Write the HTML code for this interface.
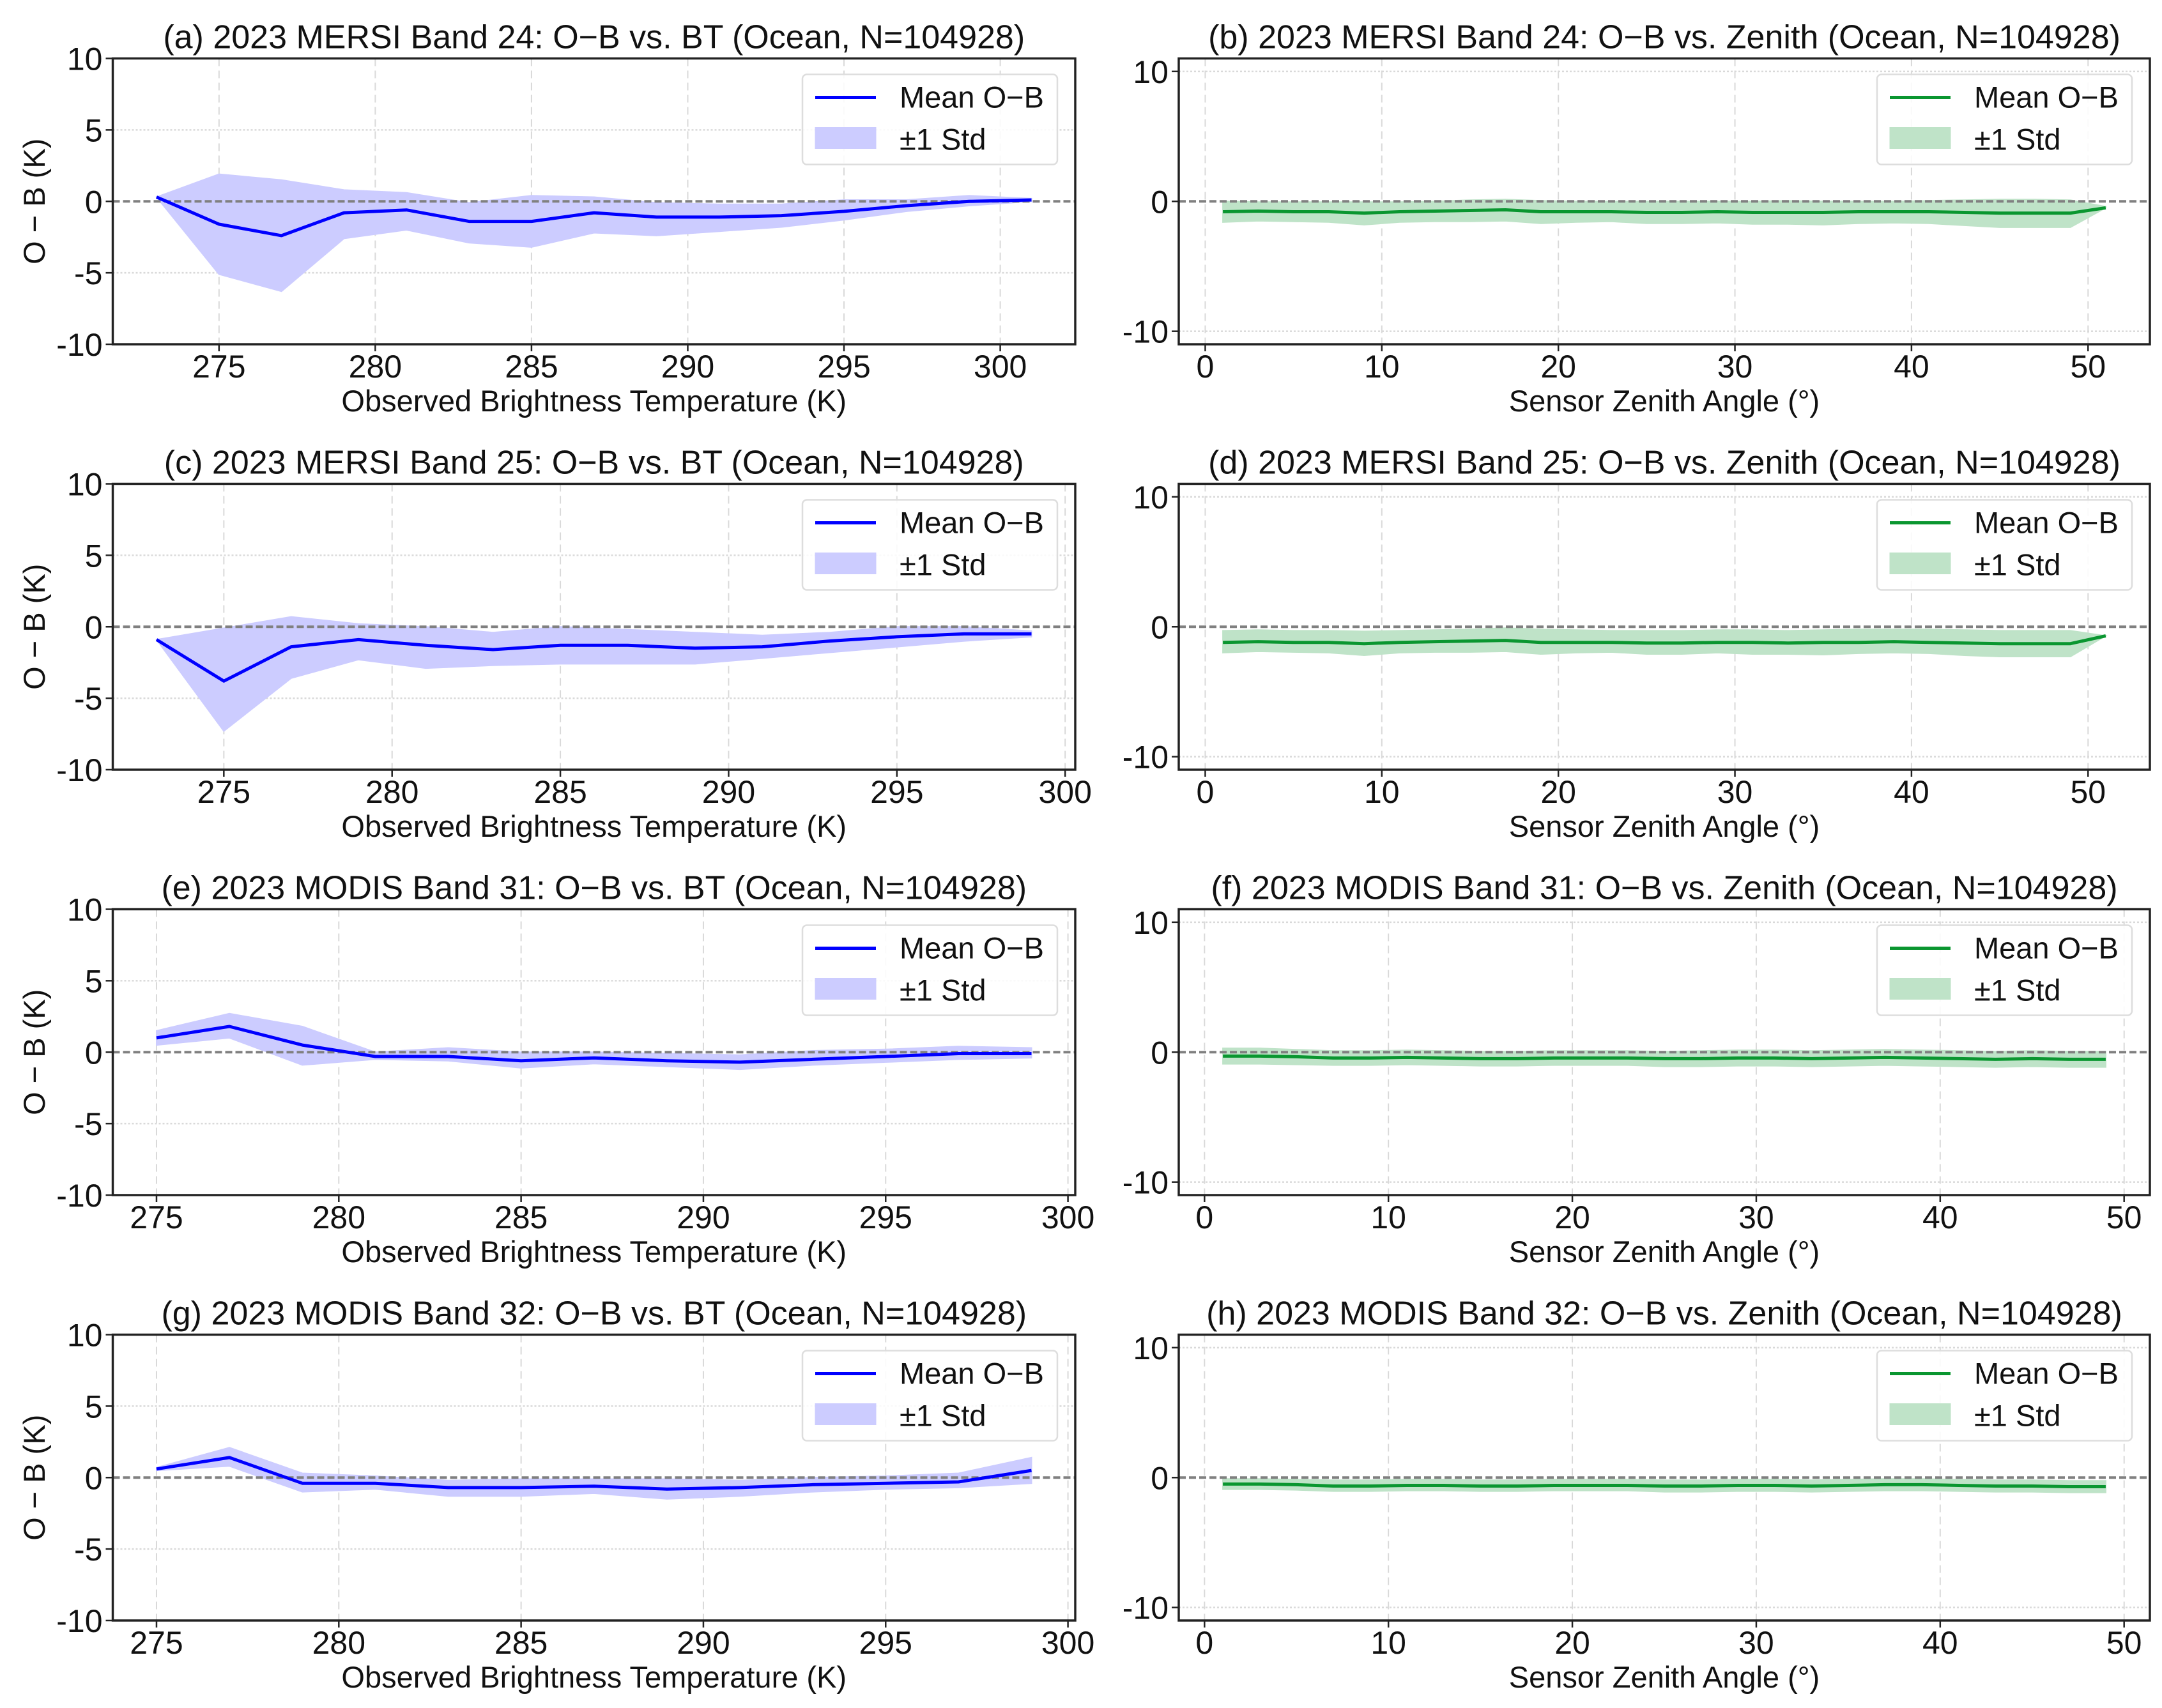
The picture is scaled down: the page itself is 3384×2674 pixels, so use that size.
<!DOCTYPE html>
<html><head><meta charset="utf-8">
<style>
html,body{margin:0;padding:0;background:#fff;}
svg{display:block;font-family:"Liberation Sans",Arial,sans-serif;}
</style></head>
<body>
<svg id="fig" width="3384" height="2674" viewBox="0 0 3384 2674" xmlns="http://www.w3.org/2000/svg"></svg>
<script>
// ---------- data ----------
const btA = [273,275,277,279,281,283,285,287,289,291,293,295,297,299,301];
const meanA = [0.3,-1.6,-2.4,-0.8,-0.6,-1.4,-1.4,-0.8,-1.1,-1.1,-1.0,-0.7,-0.3,0.0,0.1];
const upA = [0.3,1.9,1.5,0.8,0.6,-0.1,0.4,0.3,-0.1,-0.2,-0.2,0.1,0.1,0.4,0.2];
const loA = [0.3,-5.1,-6.3,-2.6,-2.0,-2.9,-3.2,-2.2,-2.4,-2.1,-1.8,-1.3,-0.7,-0.3,0.0];

const btC = [273,275,277,279,281,283,285,287,289,291,293,295,297,299];
const meanC = [-0.9,-3.8,-1.4,-0.9,-1.3,-1.6,-1.3,-1.3,-1.5,-1.4,-1.0,-0.7,-0.5,-0.5];
const upC = [-0.9,-0.1,0.7,0.2,0.0,-0.4,0.0,-0.2,-0.4,-0.6,-0.4,0.0,0.0,-0.3];
const loC = [-0.9,-7.3,-3.6,-2.3,-2.9,-2.7,-2.6,-2.6,-2.6,-2.2,-1.8,-1.4,-1.0,-0.7];

const btE = [275,277,279,281,283,285,287,289,291,293,295,297,299];
const meanE = [1.0,1.8,0.5,-0.3,-0.3,-0.6,-0.4,-0.6,-0.7,-0.5,-0.3,-0.1,-0.1];
const upE = [1.5,2.7,1.8,0.0,0.3,0.0,0.0,-0.1,-0.2,0.1,0.2,0.4,0.3];
const loE = [0.5,1.0,-0.9,-0.5,-0.6,-1.1,-0.8,-1.0,-1.2,-0.9,-0.7,-0.5,-0.4];

const btG = [275,277,279,281,283,285,287,289,291,293,295,297,299];
const meanG = [0.6,1.4,-0.4,-0.4,-0.7,-0.7,-0.6,-0.8,-0.7,-0.5,-0.4,-0.3,0.5];
const upG = [0.7,2.1,0.3,0.1,-0.2,-0.1,-0.1,-0.1,-0.2,0.0,0.1,0.3,1.4];
const loG = [0.5,0.8,-1.0,-0.8,-1.3,-1.3,-1.1,-1.5,-1.3,-1.0,-0.8,-0.7,-0.4];

const zenB = [1,3,5,7,9,11,13,15,17,19,21,23,25,27,29,31,33,35,37,39,41,43,45,47,49,51];
const meanB = [-0.8,-0.75,-0.8,-0.8,-0.9,-0.8,-0.75,-0.7,-0.65,-0.8,-0.8,-0.8,-0.85,-0.85,-0.8,-0.85,-0.85,-0.85,-0.8,-0.8,-0.8,-0.85,-0.9,-0.9,-0.9,-0.5];
const upB = [0,-0.05,-0.05,-0.05,-0.05,-0.05,0,0.1,0.15,0.05,0,0,0,0,0,0,0.05,0,0,0,0.05,0.1,0.15,0.15,0.1,-0.4];
const loB = [-1.6,-1.5,-1.55,-1.6,-1.8,-1.6,-1.55,-1.55,-1.5,-1.7,-1.6,-1.55,-1.7,-1.7,-1.65,-1.75,-1.75,-1.8,-1.7,-1.65,-1.7,-1.85,-2.0,-2.0,-2.0,-0.5];

const zenD = [1,3,5,7,9,11,13,15,17,19,21,23,25,27,29,31,33,35,37,39,41,43,45,47,49,51];
const meanD = [-1.2,-1.15,-1.2,-1.2,-1.3,-1.2,-1.15,-1.1,-1.05,-1.2,-1.2,-1.2,-1.25,-1.25,-1.2,-1.2,-1.25,-1.2,-1.2,-1.15,-1.2,-1.25,-1.3,-1.3,-1.3,-0.7];
const upD = [-0.3,-0.25,-0.3,-0.3,-0.35,-0.3,-0.25,-0.2,-0.1,-0.2,-0.25,-0.3,-0.3,-0.3,-0.25,-0.25,-0.3,-0.25,-0.2,-0.2,-0.2,-0.25,-0.3,-0.3,-0.3,-0.7];
const loD = [-2.0,-1.9,-1.95,-2.0,-2.2,-2.0,-1.95,-1.95,-1.9,-2.1,-2.0,-1.95,-2.1,-2.1,-2.0,-2.1,-2.1,-2.15,-2.05,-2.0,-2.05,-2.2,-2.3,-2.3,-2.3,-0.7];

const zenF = [1,3,5,7,9,11,13,15,17,19,21,23,25,27,29,31,33,35,37,39,41,43,45,47,49];
const meanF = [-0.3,-0.3,-0.35,-0.45,-0.45,-0.4,-0.45,-0.5,-0.5,-0.45,-0.45,-0.45,-0.5,-0.5,-0.45,-0.45,-0.5,-0.45,-0.4,-0.45,-0.5,-0.55,-0.5,-0.55,-0.55];
const upF = [0.3,0.3,0.2,0.1,0.1,0.15,0.1,0.05,0.05,0.1,0.1,0.1,0.05,0.1,0.15,0.15,0.1,0.15,0.2,0.15,0.1,0.05,0.1,0.05,0.05];
const loF = [-0.9,-0.9,-0.95,-1.0,-1.0,-0.95,-1.0,-1.05,-1.05,-1.0,-1.0,-1.0,-1.1,-1.1,-1.05,-1.05,-1.1,-1.05,-1.0,-1.05,-1.1,-1.15,-1.1,-1.15,-1.15];

const zenH = [1,3,5,7,9,11,13,15,17,19,21,23,25,27,29,31,33,35,37,39,41,43,45,47,49];
const meanH = [-0.5,-0.5,-0.55,-0.65,-0.65,-0.6,-0.6,-0.65,-0.65,-0.6,-0.6,-0.6,-0.65,-0.65,-0.6,-0.6,-0.65,-0.6,-0.55,-0.55,-0.6,-0.65,-0.65,-0.7,-0.7];
const upH = [-0.1,-0.1,-0.15,-0.2,-0.2,-0.15,-0.15,-0.2,-0.2,-0.15,-0.15,-0.15,-0.2,-0.2,-0.15,-0.15,-0.2,-0.15,-0.1,-0.1,-0.15,-0.2,-0.2,-0.25,-0.25];
const loH = [-0.9,-0.9,-0.95,-1.05,-1.05,-1.0,-1.0,-1.05,-1.05,-1.0,-1.0,-1.0,-1.1,-1.1,-1.05,-1.05,-1.1,-1.05,-1.0,-1.0,-1.05,-1.1,-1.1,-1.15,-1.15];

const ticksBT1 = [275,280,285,290,295,300];
const ticksZen = [0,10,20,30,40,50];
const ticksYL = [10,5,0,-5,-10];
const ticksYR = [10,0,-10];

const titles = [
 "(a) 2023 MERSI Band 24: O\u2212B vs. BT (Ocean, N=104928)",
 "(b) 2023 MERSI Band 24: O\u2212B vs. Zenith (Ocean, N=104928)",
 "(c) 2023 MERSI Band 25: O\u2212B vs. BT (Ocean, N=104928)",
 "(d) 2023 MERSI Band 25: O\u2212B vs. Zenith (Ocean, N=104928)",
 "(e) 2023 MODIS Band 31: O\u2212B vs. BT (Ocean, N=104928)",
 "(f) 2023 MODIS Band 31: O\u2212B vs. Zenith (Ocean, N=104928)",
 "(g) 2023 MODIS Band 32: O\u2212B vs. BT (Ocean, N=104928)",
 "(h) 2023 MODIS Band 32: O\u2212B vs. Zenith (Ocean, N=104928)"
];

// ---------- drawing ----------
const NS = "http://www.w3.org/2000/svg";
const svg = document.getElementById('fig');
function el(tag, attrs, parent){
  const e = document.createElementNS(NS, tag);
  for (const k in attrs) e.setAttribute(k, attrs[k]);
  (parent||svg).appendChild(e);
  return e;
}
const panels = [
 {xs:btA, m:meanA, u:upA, l:loA, col:0, xt:ticksBT1, yt:ticksYL, ylim:[-10,10], xl:"Observed Brightness Temperature (K)"},
 {xs:zenB, m:meanB, u:upB, l:loB, col:1, xt:ticksZen, yt:ticksYR, ylim:[-11,11], xl:"Sensor Zenith Angle (\u00B0)"},
 {xs:btC, m:meanC, u:upC, l:loC, col:0, xt:ticksBT1, yt:ticksYL, ylim:[-10,10], xl:"Observed Brightness Temperature (K)"},
 {xs:zenD, m:meanD, u:upD, l:loD, col:1, xt:ticksZen, yt:ticksYR, ylim:[-11,11], xl:"Sensor Zenith Angle (\u00B0)"},
 {xs:btE, m:meanE, u:upE, l:loE, col:0, xt:ticksBT1, yt:ticksYL, ylim:[-10,10], xl:"Observed Brightness Temperature (K)"},
 {xs:zenF, m:meanF, u:upF, l:loF, col:1, xt:ticksZen, yt:ticksYR, ylim:[-11,11], xl:"Sensor Zenith Angle (\u00B0)"},
 {xs:btG, m:meanG, u:upG, l:loG, col:0, xt:ticksBT1, yt:ticksYL, ylim:[-10,10], xl:"Observed Brightness Temperature (K)"},
 {xs:zenH, m:meanH, u:upH, l:loH, col:1, xt:ticksZen, yt:ticksYR, ylim:[-11,11], xl:"Sensor Zenith Angle (\u00B0)"}
];
const FS = 47, FT = 52, FK = 50;
panels.forEach((p, i) => {
  const row = Math.floor(i/2);
  const L = p.col===0 ? 176.5 : 1845;
  const R = p.col===0 ? 1683 : 3365;
  const T = 91.5 + row*666;
  const B = T + 447.5;
  const x0 = p.xs[0], x1 = p.xs[p.xs.length-1], pad = (x1-x0)*0.05;
  const xmin = x0-pad, xmax = x1+pad;
  const X = v => L + (v-xmin)/(xmax-xmin)*(R-L);
  const Y = v => B - (v-p.ylim[0])/(p.ylim[1]-p.ylim[0])*(B-T);
  const lineCol = p.col===0 ? "#0000ff" : "#0a9630";
  const fillCol = p.col===0 ? "#ccccff" : "#bfe3c8";
  const g = el('g', {});
  
  
  p.xt.forEach(t => {
    const gl = el('line', {x1:X(t), x2:X(t), y1:T, y2:B, stroke:"#d9d9d9", 'stroke-width':2, 'stroke-dasharray':"12,7"}, g);
    
    
  });
  p.yt.forEach(t => {
    if (t===0) return;
    const gl = el('line', {x1:L, x2:R, y1:Y(t), y2:Y(t), stroke:"#d9d9d9", 'stroke-width':2.5, 'stroke-dasharray':"3,3"}, g);
    
    
  });
  let d = "";
  p.xs.forEach((x,k) => { d += (k?"L":"M") + X(x).toFixed(1) + "," + Y(p.u[k]).toFixed(1); });
  for (let k=p.xs.length-1;k>=0;k--) d += "L" + X(p.xs[k]).toFixed(1) + "," + Y(p.l[k]).toFixed(1);
  const band = el('path', {d:d+"Z", fill:fillCol, stroke:fillCol, 'stroke-width':2}, g);
  
  
  const z = el('line', {x1:L, x2:R, y1:Y(0), y2:Y(0), stroke:"#808080", 'stroke-width':4, 'stroke-dasharray':"11,5"}, g);
  
  
  const pts = p.xs.map((x,k) => X(x).toFixed(1)+","+Y(p.m[k]).toFixed(1)).join(" ");
  const ml = el('polyline', {points:pts, fill:"none", stroke:lineCol, 'stroke-width':5, 'stroke-linejoin':"round"}, g);
  
  
  const fr = el('rect', {x:L, y:T, width:R-L, height:B-T, fill:"none", stroke:"#222", 'stroke-width':3.5}, g);
  
  
  p.xt.forEach(t => {
    el('line', {x1:X(t), x2:X(t), y1:B, y2:B+11, stroke:"#222", 'stroke-width':2.5}, g);
    const tl = el('text', {x:X(t), y:B+52, 'font-size':FK, 'text-anchor':"middle", fill:"#111"}, g);
    tl.textContent = t;
    
    
  });
  p.yt.forEach(t => {
    el('line', {x1:L-11, x2:L, y1:Y(t), y2:Y(t), stroke:"#222", 'stroke-width':2.5}, g);
    const tl = el('text', {x:L-16, y:Y(t)+18, 'font-size':FK, 'text-anchor':"end", fill:"#111"}, g);
    tl.textContent = t;
    
    
  });
  const xl = el('text', {x:(L+R)/2, y:B+105, 'font-size':FS, 'text-anchor':"middle", fill:"#111"}, g);
  xl.textContent = p.xl;
  
  
  if (p.col===0) {
    const yl = el('text', {x:0, y:0, 'font-size':FS, 'text-anchor':"middle", fill:"#111", transform:`translate(70,${(T+B)/2}) rotate(-90)`}, g);
    yl.textContent = "O \u2212 B (K)";
    
    
  }
  const tt = el('text', {x:(L+R)/2, y:T-16, 'font-size':FT, 'text-anchor':"middle", fill:"#111"}, g);
  tt.textContent = titles[i];
  
  
  const lx = R - 28 - 399, ly = T + 25;
  const lg = el('g', {}, g);
  
  
  el('rect', {x:lx, y:ly, width:399, height:141, rx:7, fill:"#fff", 'fill-opacity':0.85, stroke:"#ddd", 'stroke-width':2.5}, lg);
  const ls = el('line', {x1:lx+20, x2:lx+115, y1:ly+36, y2:ly+36, stroke:lineCol, 'stroke-width':5}, lg);
  
  
  const t1 = el('text', {x:lx+152, y:ly+52, 'font-size':FS, fill:"#111"}, lg);
  t1.textContent = "Mean O\u2212B";
  const ps = el('rect', {x:lx+20, y:ly+83, width:95, height:33, fill:fillCol, stroke:fillCol}, lg);
  
  
  const t2 = el('text', {x:lx+152, y:ly+118, 'font-size':FS, fill:"#111"}, lg);
  t2.textContent = "\u00B11 Std";
});
</script>
</body></html>
